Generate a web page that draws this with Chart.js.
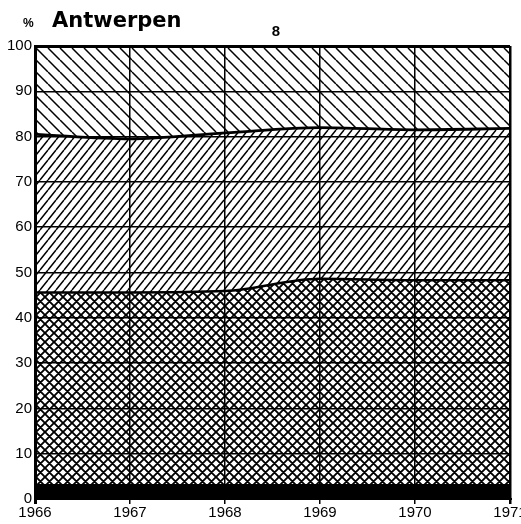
<!DOCTYPE html>
<html>
<head>
<meta charset="utf-8">
<script src="https://cdn.jsdelivr.net/npm/chart.js@4/dist/chart.umd.min.js"></script>
<style>
html,body{margin:0;padding:0;background:#fff;}
#wrap{width:521px;height:524px;position:relative;}
</style>
</head>
<body>
<div id="wrap"><canvas id="c" width="521" height="524"></canvas></div>
<script>
// ---- data (percent shares, stacked) ----
const years = ['1966','1967','1968','1969','1970','1971'];
const yTicks = [0,10,20,30,40,50,60,70,80,90,100];
const layerBlack = [3.2, 3.2, 3.2, 3.2, 3.2, 3.2];          // solid black band
const topCross   = [45.6, 45.6, 45.9, 48.6, 48.3, 48.3];     // top of cross-hatched band
const topForward = [80.5, 79.5, 80.8, 82.0, 81.5, 81.8];     // top of "////" band
const total      = [100, 100, 100, 100, 100, 100];

const layerCross   = topCross.map((v,i)=>+(v-layerBlack[i]).toFixed(2));
const layerForward = topForward.map((v,i)=>+(v-topCross[i]).toFixed(2));
const layerBack    = total.map((v,i)=>+(v-topForward[i]).toFixed(2));

// ---- patterns ----
function hatch(w,h,fwd,back,lw){
  const c=document.createElement('canvas'); c.width=w; c.height=h;
  const g=c.getContext('2d');
  g.fillStyle='#fff'; g.fillRect(0,0,w,h);
  g.strokeStyle='#000'; g.lineWidth=lw;
  g.beginPath();
  for(const dx of [-w,0,w]){
    if(fwd){ g.moveTo(dx,h); g.lineTo(dx+w,0); }
    if(back){ g.moveTo(dx,0); g.lineTo(dx+w,h); }
  }
  g.stroke();
  return g.createPattern(c,'repeat');
}
const patCross = hatch(9,9,true,true,1.9);
const patFwd   = hatch(8,10,true,false,1.5);
const patBack  = hatch(12,12,false,true,1.5);

const FONT = "'Liberation Sans', Arial, sans-serif";

const titlePlugin = {
  id:'titles',
  afterDraw(chart){
    const g=chart.ctx;
    g.save();
    g.fillStyle='#000';
    g.textBaseline='alphabetic';
    g.textAlign='left';
    g.font="bold 12px "+FONT;
    g.fillText('%',23,27);
    g.font="bold 21px 'DejaVu Sans', sans-serif";
    g.fillText('Antwerpen',52,27);
    g.font="bold 15px "+FONT;
    g.textAlign='center';
    g.fillText('8',276,36);
    g.restore();
  }
};

new Chart(document.getElementById('c'),{
  type:'line',
  data:{
    labels:years,
    datasets:[
      {data:layerBlack, fill:'origin', backgroundColor:'#000', borderColor:'#000', borderWidth:1, pointRadius:0, cubicInterpolationMode:'monotone'},
      {data:layerCross, fill:'-1', backgroundColor:patCross, borderColor:'#000', borderWidth:2.5, pointRadius:0, cubicInterpolationMode:'monotone'},
      {data:layerForward, fill:'-1', backgroundColor:patFwd, borderColor:'#000', borderWidth:2.8, pointRadius:0, cubicInterpolationMode:'monotone'},
      {data:layerBack, fill:'-1', backgroundColor:patBack, borderColor:'#000', borderWidth:0, pointRadius:0, cubicInterpolationMode:'monotone'}
    ]
  },
  options:{
    responsive:false,
    animation:false,
    devicePixelRatio:1,
    layout:{padding:{top:46,left:0,right:11,bottom:0}},
    plugins:{legend:{display:false},tooltip:{enabled:false},title:{display:false}},
    scales:{
      x:{
        offset:false,
        grid:{z:1, color:'#000', lineWidth:(c)=> c.index===5?2.5:(c.index===0?3:1.5), tickLength:5, drawTicks:true},
        border:{z:1, color:'#000', width:2},
        ticks:{z:1, color:'#000', font:{family:FONT,size:15}, padding:0, maxRotation:0, autoSkip:false},
        afterFit(s){ s.height=25; s.paddingLeft=0; s.paddingRight=0; }
      },
      y:{
        stacked:true,
        min:0,max:100,
        afterBuildTicks(s){ s.ticks = yTicks.map(v=>({value:v})); },
        grid:{z:1, color:'#000', lineWidth:(c)=> c.tick && c.tick.value===100?3:1.5, drawTicks:false},
        border:{z:1, color:'#000', width:3},
        ticks:{z:1, color:'#000', font:{family:FONT,size:15}, padding:3},
        afterFit(s){ s.width=35; s.paddingTop=0; s.paddingBottom=0; }
      }
    }
  },
  plugins:[titlePlugin]
});
</script>
</body>
</html>
